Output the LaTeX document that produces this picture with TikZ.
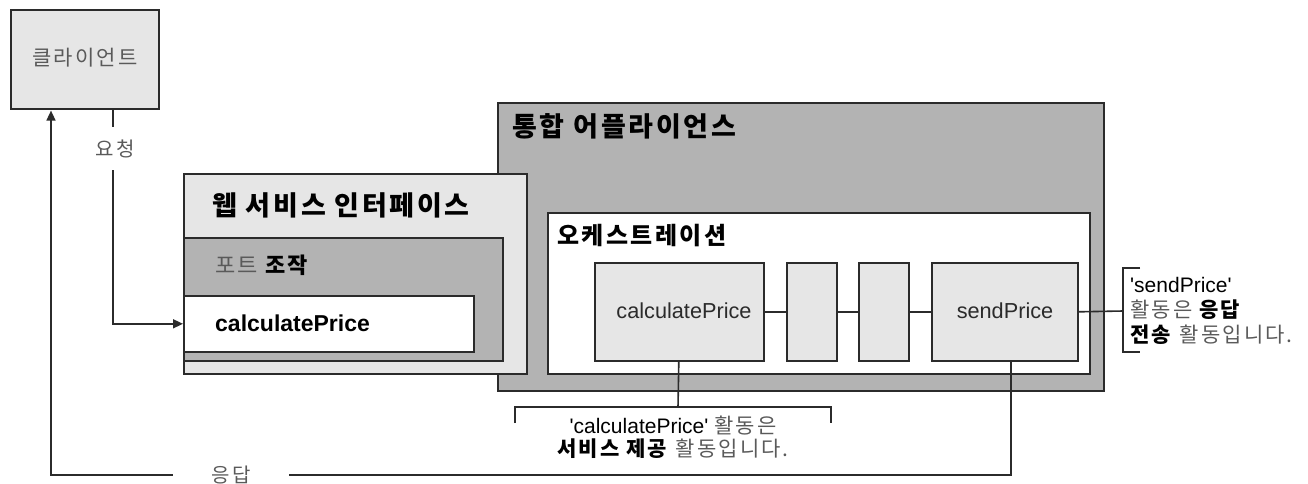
\documentclass[tikz,border=0pt]{standalone}
\usepackage{fontspec}
\setmainfont{Liberation Sans}
\newfontfamily\kr{Noto Sans CJK KR}[LetterSpace=10]
\usetikzlibrary{arrows.meta}
\definecolor{lgray}{HTML}{E6E6E6}
\definecolor{mgray}{HTML}{B3B3B3}
\definecolor{linec}{HTML}{2B2B2B}
\definecolor{kgray}{HTML}{5A5A5A}
\newcommand{\fs}[1]{\fontsize{#1}{#1}\selectfont}
\newcommand{\sq}{\textquotesingle}
\tikzset{
  box/.style={draw=linec, line width=1.6pt, anchor=north west, inner sep=0pt},
  conn/.style={draw=linec, line width=1.6pt},
  tipa/.style={-{Triangle[length=10pt,width=9pt]}},
  title/.style={anchor=west, inner sep=0pt, text=black},
  gaplabel/.style={fill=white, inner sep=0pt, text=kgray, font=\kr\fs{20}},
}
\begin{document}
\begin{tikzpicture}[x=1pt,y=-1pt]
\useasboundingbox[fill=white] (0,0) rectangle (1308,483);
% boxes
\node[box, fill=lgray, minimum width=148pt, minimum height=99pt] (client) at (10,9) {};
\node[text=kgray, font=\kr\fs{21}] (clientt) at (85,58) {클라이언트};
\node[box, fill=mgray, minimum width=606pt, minimum height=288pt] (appl) at (497,102) {};
\node[title, font=\kr\bfseries\fs{27}] (applt) at (512,126) {통합 어플라이언스};
\node[box, fill=lgray, minimum width=343pt, minimum height=200pt] (web) at (183,173) {};
\node[title, font=\kr\bfseries\fs{27}] (webt) at (212,205) {웹 서비스 인터페이스};
\node[box, fill=mgray, minimum width=319pt, minimum height=123pt] (port) at (183,237) {};
\node[title, font=\kr\fs{22}] (portt) at (215,265) {\textcolor{kgray}{포트} \textbf{조작}};
\node[box, fill=white, minimum width=290pt, minimum height=56pt] (calcws) at (183,295) {};
\node[title, font=\bfseries\fs{23}] (calcwst) at (215,323) {calculatePrice};
\node[box, fill=white, minimum width=542pt, minimum height=161pt] (orch) at (547,212) {};
\node[title, font=\kr\bfseries\fs{24}] (orcht) at (557,236) {오케스트레이션};
\node[box, fill=lgray, minimum width=169pt, minimum height=98pt] (calc) at (594,262) {};
\node[text=linec, font=\fs{21.7}] (calct) at (684,311) {calculatePrice};
\node[box, fill=lgray, minimum width=50pt, minimum height=98pt] (b1) at (786,262) {};
\node[box, fill=lgray, minimum width=50pt, minimum height=98pt] (b2) at (858,262) {};
\node[box, fill=lgray, minimum width=146pt, minimum height=98pt] (send) at (931,262) {};
\node[text=linec, font=\fs{21.7}] (sendt) at (1005,311) {sendPrice};
% chain connectors
\draw[conn] (calc.east) -- (b1.west);
\draw[conn] (b1.east) -- (b2.west);
\draw[conn] (b2.east) -- (send.west);
% request
\draw[conn, tipa] ([xshift=103pt]client.south west) |- (calcws.west);
\node[gaplabel, minimum height=43pt] (req) at (115,148.5) {요청};
% response
\coordinate (rc) at (51,475);
\draw[conn, tipa] ([xshift=6pt]send.south) |- (rc) -- ([xshift=41pt,yshift=-1pt]client.south west);
\node[gaplabel, minimum width=116pt, minimum height=24pt] (resp) at (231,475) {응답};
% right note
\coordinate (rb) at (1123,311);
\draw[conn] (send.east) -- (rb);
\draw[conn, line width=1.4pt] (1140,268) -- (1123,268) -- (1123,352) -- (1140,352);
\node[anchor=west, align=left, inner sep=0pt, font=\fs{21}, text=black] (rnote) at (1130,311)
  {\sq sendPrice\sq\\[4pt]{\kr\textcolor{kgray}{활동은} \textbf{응답}}\\[4pt]{\kr\textbf{전송} \textcolor{kgray}{활동입니다.}}};
% bottom note
\coordinate (bb) at (678,407);
\draw[conn] ([xshift=-0.5pt]calc.south) -- (bb);
\draw[conn, line width=1.4pt] (515,423) -- (515,407) -- (831,407) -- (831,423);
\node[align=center, inner sep=0pt, font=\fs{21}, text=black] (bnote) at (673,437.5)
  {\sq calculatePrice\sq\ {\kr\textcolor{kgray}{활동은}}\\[2pt]{\kr\textbf{서비스 제공} \textcolor{kgray}{활동입니다.}}};
\end{tikzpicture}
\end{document}
